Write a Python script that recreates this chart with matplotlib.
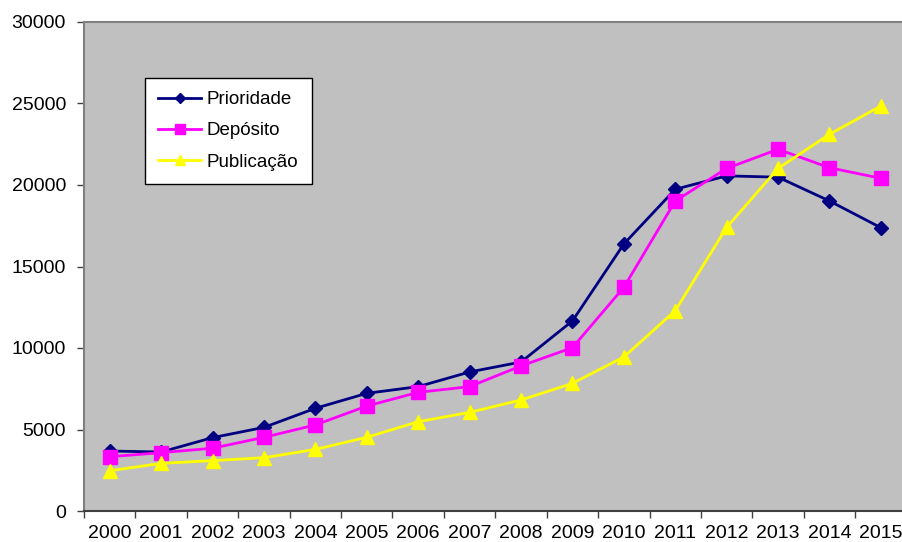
import numpy as np
import matplotlib
matplotlib.use("Agg")
import matplotlib.pyplot as plt

anos = [str(a) for a in range(2000, 2016)]

prioridade = [3680, 3620, 4500, 5130, 6300, 7220, 7630, 8530, 9140,
              11660, 16380, 19740, 20560, 20480, 19020, 17380]
deposito = [3330, 3580, 3850, 4520, 5280, 6440, 7280, 7630, 8900,
            10020, 13720, 19020, 21020, 22190, 21060, 20410]
publicacao = [2470, 2920, 3090, 3270, 3780, 4520, 5480, 6050, 6810,
              7830, 9450, 12290, 17400, 21020, 23110, 24850]

plt.rcParams['font.family'] = ['Liberation Sans', 'DejaVu Sans']

fig = plt.figure(figsize=(9.03, 5.42), dpi=100)
# eixo ligeiramente mais largo que a figura (a ultima categoria fica cortada)
ax = fig.add_axes([84 / 903, 31 / 542, 822.6 / 903, 489 / 542])
ax.set_facecolor('#C0C0C0')

x = np.arange(len(anos))
ax.plot(x, prioridade, color='#000080', lw=2, marker='D', ms=7,
        label='Prioridade')
ax.plot(x, deposito, color='#FF00FF', lw=2, marker='s', ms=9.5,
        label='Depósito')
ax.plot(x, publicacao, color='#FFFF00', lw=2, marker='^', ms=10,
        label='Publicação')

ax.set_xlim(-0.5, len(anos) - 0.5)
ax.set_ylim(0, 30000)
ax.set_yticks(range(0, 30001, 5000))
ax.tick_params(axis='y', labelsize=14, length=5, width=1, color='#404040', pad=8)

ax.set_xticks(x)
ax.set_xticklabels(anos)
ax.set_xticks(np.arange(-0.5, len(anos), 1), minor=True)
ax.tick_params(axis='x', which='major', length=0, labelsize=14, pad=10)
ax.tick_params(axis='x', which='minor', length=5, width=1, color='#404040')

for lado in ['left', 'top', 'right']:
    ax.spines[lado].set_color('#808080')
    ax.spines[lado].set_linewidth(1.5)
ax.spines['bottom'].set_color('#404040')
ax.spines['bottom'].set_linewidth(1.5)

leg = ax.legend(loc='upper left', bbox_to_anchor=(0.0742, 0.8855),
                borderaxespad=0, fontsize=13.5, fancybox=False, shadow=False,
                framealpha=1, edgecolor='black', handlelength=2.3,
                labelspacing=0.75, markerscale=0.7, borderpad=0.7,
                handletextpad=0.3)
leg.get_frame().set_linewidth(1)

fig.savefig('out.png', dpi=100)
